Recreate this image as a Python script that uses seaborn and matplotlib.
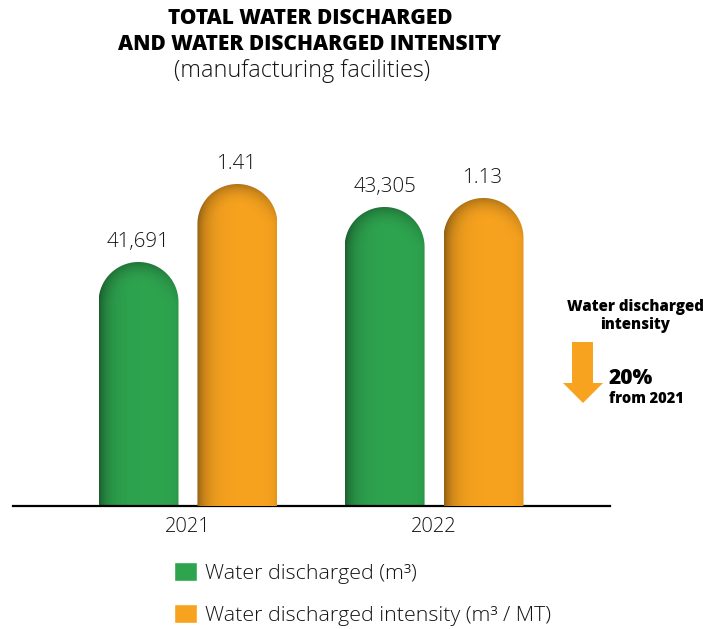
import numpy as np
import matplotlib
matplotlib.use("Agg")
import matplotlib.pyplot as plt
import seaborn as sns
from matplotlib.path import Path
from matplotlib.patches import PathPatch, Patch, Polygon

# ---- data -------------------------------------------------------------
years = ["2021", "2022"]
discharged = [41691, 43305]            # m3
intensity = [1.41, 1.13]               # m3 / MT
discharged_labels = ["41,691", "43,305"]
intensity_labels = ["1.41", "1.13"]
series_names = ["Water discharged (m³)", "Water discharged intensity (m³ / MT)"]

GREEN = "#2ea44f"
ORANGE = "#f8a31f"
TEXT = "#141414"
LIGHT = 300

sns.set_theme(style="white")
plt.rcParams["font.family"] = ["Open Sans", "DejaVu Sans"]
plt.rcParams["font.weight"] = LIGHT

W, H = 722, 629
fig = plt.figure(figsize=(W / 100, H / 100), dpi=100)
fig.patch.set_facecolor("white")

# axes box: baseline at y=506 px, left/right ends of the axis line
ax = fig.add_axes([13 / W, (H - 506) / H, 597 / W, 386 / H])
ax2 = ax.twinx()

pos = np.arange(len(years))
offset, bar_w = 0.201, 0.325

sns.barplot(x=pos - offset, y=discharged, native_scale=True, width=bar_w,
            color=GREEN, errorbar=None, ax=ax)
sns.barplot(x=pos + offset, y=intensity, native_scale=True, width=bar_w,
            color=ORANGE, errorbar=None, ax=ax2)

XLIM = (-0.711, 1.715)
YLIM_L = (34531, 34531 + 386 / 0.03408)
YLIM_R = (-5.03, -5.03 + 386 / 50.0)


def fix_limits():
    ax.set_xlim(*XLIM)
    ax.set_ylim(*YLIM_L)
    ax2.set_ylim(*YLIM_R)


fix_limits()

for a in (ax, ax2):
    a.grid(False)
    a.set_facecolor("none")
    for s in ("left", "right", "top"):
        a.spines[s].set_visible(False)
    a.set_ylabel("")
    a.set_yticks([])
ax2.spines["bottom"].set_visible(False)
ax.spines["bottom"].set_color("black")
ax.spines["bottom"].set_linewidth(1.6)
ax.set_xticks(pos)
ax.set_xticklabels(years, fontsize=14.5, color=TEXT, weight=LIGHT)
ax.tick_params(axis="x", length=0, pad=8)
ax.set_xlabel("")
ax2.set_zorder(ax.get_zorder() + 1)


def shade_image(base, ncol, nrow, radius):
    """Cylinder-like shading with a darker rim on the rounded cap."""
    rgb = np.array(matplotlib.colors.to_rgb(base))
    u = np.linspace(0, 1, ncol)[None, :]
    d_h = 0.40 * np.exp(-u / 0.12) + 0.08 * np.exp(-(1 - u) / 0.06)
    jj = np.arange(ncol)[None, :] - (ncol - 1) / 2
    ii = np.arange(nrow)[:, None]
    dy = np.clip(radius - ii, 0, None)
    rho = np.sqrt(jj ** 2 + dy ** 2) / radius
    d_c = 0.30 * np.clip((rho - 0.45) / 0.55, 0, 1) ** 1.5 * (dy / radius)
    d = 1 - (1 - d_h) * (1 - d_c)
    return np.clip(rgb[None, None, :] * (1 - d[..., None]), 0, 1)


def round_bars(axis, base):
    ybot = axis.get_ylim()[0]
    for rect in list(axis.patches):
        if not isinstance(rect, matplotlib.patches.Rectangle):
            continue
        x0, w, h = rect.get_x(), rect.get_width(), rect.get_height()
        rect.set_visible(False)
        tr = axis.transData
        px0, pyb = tr.transform((x0, ybot))
        px1, pyt = tr.transform((x0 + w, h))
        r = (px1 - px0) / 2
        cx, cy = px0 + r, pyt - r
        t = np.linspace(np.pi, 0, 80)
        pts = [(px0, pyb), (px0, cy)]
        pts += list(zip(cx + r * np.cos(t), cy + r * np.sin(t)))
        pts += [(px1, pyb), (px0, pyb)]
        data_pts = tr.inverted().transform(np.array(pts))
        clip = PathPatch(Path(data_pts), transform=tr, facecolor="none",
                         edgecolor="none")
        axis.add_patch(clip)
        ncol = int(round(px1 - px0))
        nrow = int(round(pyt - pyb))
        img = shade_image(base, ncol, nrow, r)
        im = axis.imshow(img, extent=[x0, x0 + w, ybot, h], origin="upper",
                         aspect="auto", interpolation="bilinear", zorder=2)
        im.set_clip_path(clip)


round_bars(ax, GREEN)
round_bars(ax2, ORANGE)
fix_limits()

# value labels above the bars
for xi, v, lab in zip(pos - offset, discharged, discharged_labels):
    ax.annotate(lab, xy=(xi, v), xytext=(0, 11), textcoords="offset points",
                ha="center", va="baseline", fontsize=14.8, color=TEXT,
                weight=LIGHT)
for xi, v, lab in zip(pos + offset, intensity, intensity_labels):
    ax2.annotate(lab, xy=(xi, v), xytext=(0, 11), textcoords="offset points",
                 ha="center", va="baseline", fontsize=14.8, color=TEXT,
                 weight=LIGHT)


def fy(py):
    return 1 - py / H


# titles
fig.text(310 / W, fy(18), "TOTAL WATER DISCHARGED", ha="center", va="center",
         fontsize=15, weight=800, color="black")
fig.text(310 / W, fy(44), "AND WATER DISCHARGED INTENSITY", ha="center",
         va="center", fontsize=15, weight=800, color="black")
fig.text(302 / W, fy(71), "(manufacturing facilities)", ha="center",
         va="center", fontsize=16.8, color=TEXT, weight=LIGHT)

# change callout on the right
fig.text(635 / W, fy(307), "Water discharged", ha="center", va="center",
         fontsize=10.8, weight=800, color="black")
fig.text(635 / W, fy(325), "intensity", ha="center", va="center",
         fontsize=10.8, weight=800, color="black")
arrow_px = [(572, 342), (593, 342), (593, 383), (603, 383), (583, 403),
            (563, 383), (572, 383)]
fig.patches.append(Polygon([(x / W, fy(y)) for x, y in arrow_px],
                           closed=True, transform=fig.transFigure,
                           facecolor=ORANGE, edgecolor="none"))
fig.text(609 / W, fy(378), "20%", ha="left", va="center", fontsize=15,
         weight=800, color="black")
fig.text(609 / W, fy(399), "from 2021", ha="left", va="center", fontsize=10.5,
         weight=800, color="black")

# legend
handles = [Patch(facecolor=GREEN, label=series_names[0]),
           Patch(facecolor=ORANGE, label=series_names[1])]
fig.legend(handles=handles, loc="upper left",
           bbox_to_anchor=(174 / W, fy(562)), frameon=False,
           prop={"size": 15.4, "weight": LIGHT},
           handlelength=1.07, handleheight=1.02, handletextpad=0.37,
           labelspacing=0.92, borderpad=0, borderaxespad=0,
           labelcolor=TEXT)

fig.savefig("out.png", dpi=100, facecolor="white")
